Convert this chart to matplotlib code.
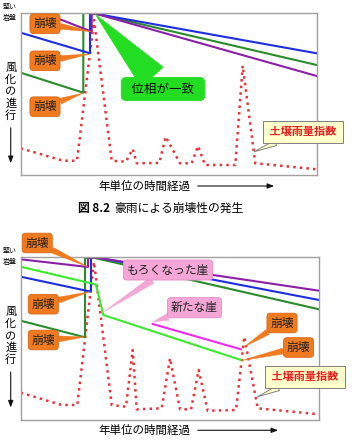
import matplotlib
matplotlib.use("Agg")
import matplotlib.pyplot as plt

plt.rcParams['font.family'] = ['Noto Sans CJK JP', 'DejaVu Sans']

# schematic values (x = time, y = weathering, pixel-like units)
# --- panel 1 ---
blue1_x = [20.7, 90, 90, 94, 316.7]
blue1_y = [32.7, 53.3, 13.5, 13.5, 53.3]
purple1_x = [43.3, 91.7, 91.7, 95, 316.7]
purple1_y = [12.7, 31.7, 13.5, 13.5, 76]
green1_x = [20.7, 83.3, 83.3, 93, 316.7]
green1_y = [72.7, 92.7, 13, 13, 65]
rain1_x = [20.7, 63, 77, 94, 111.7, 126, 132.7, 136.7, 159.3, 165.7, 180, 191.7,
           198, 205, 235.3, 242.7, 255.3, 316.7]
rain1_y = [148.3, 160.7, 160.7, 20, 160.7, 161.7, 149, 163.3, 163, 136.7, 163.3, 163.3,
           146, 165, 165, 65.7, 163.3, 169.3]

# --- panel 2 ---
purple2_x = [20.7, 88, 88, 95, 319]
purple2_y = [259.3, 267, 257.5, 257.5, 290.7]
blue2_x = [20.7, 91, 91, 95, 319]
blue2_y = [276.7, 291.7, 257, 257, 300]
dgreen2_x = [20.7, 85, 85, 95, 319]
dgreen2_y = [320.7, 337.3, 258, 258, 309.3]
lime2_x = [20.7, 96, 103.3, 241]
lime2_y = [266.7, 284.5, 315, 360]
magenta2_x = [152.7, 241]
magenta2_y = [324, 349.3]
rain2_x = [20.7, 61.7, 77.3, 94, 111.7, 126, 132.7, 136.7, 161.7, 170, 180, 191,
           198.7, 207.7, 236, 244.3, 257.7, 319]
rain2_y = [392.7, 405, 405, 262, 405, 406.7, 350, 409.3, 408.3, 358.3, 409.3, 409.3,
           370, 410.7, 410, 336.7, 408.3, 414.3]

W, H = 352, 444
fig = plt.figure(figsize=(W / 100, H / 100), dpi=100)

ORANGE = '#f07a1e'
BLUE = '#1d2ee0'
PURPLE = '#8b1fa8'
DGREEN = '#2a8c2a'
LIME = '#3bea2e'
MAGENTA = '#ee2aee'
RED = '#e8323c'


def panel(x0, x1, y0, y1):
    ax = fig.add_axes([x0 / W, 1 - y1 / H, (x1 - x0) / W, (y1 - y0) / H])
    ax.set_xlim(x0, x1)
    ax.set_ylim(y1, y0)
    ax.set_xticks([])
    ax.set_yticks([])
    for s in ax.spines.values():
        s.set_color('#a0a0a0')
        s.set_linewidth(1.0)
    return ax


def callout(ax, txt, xy, xyt, kind='orange'):
    if kind == 'orange':
        bb = dict(boxstyle='round,pad=0.28,rounding_size=0.3', fc=ORANGE, ec='#d8661a', lw=0.6)
        ap = dict(arrowstyle='wedge,tail_width=0.5,shrink_factor=0.5', fc=ORANGE, ec=ORANGE,
                  lw=0.3, shrinkA=0, shrinkB=0)
        ax.annotate(txt, xy=xy, xytext=xyt, ha='center', va='center', fontsize=8.5,
                    color='#222222', bbox=bb, arrowprops=ap, annotation_clip=False, zorder=10)
    elif kind == 'pink':
        bb = dict(boxstyle='round,pad=0.3,rounding_size=0.3', fc='#f4a6d6', ec='#e48cc4', lw=0.6)
        ap = dict(arrowstyle='wedge,tail_width=0.6,shrink_factor=0.5', fc='#f4a6d6',
                  ec='#f4a6d6', lw=0.3, shrinkA=0, shrinkB=0)
        ax.annotate(txt, xy=xy, xytext=xyt, ha='center', va='center', fontsize=8.5,
                    color='#222222', bbox=bb, arrowprops=ap, annotation_clip=False, zorder=10)
    elif kind == 'yellow':
        bb = dict(boxstyle='square,pad=0.4', fc='#ffffcc', ec='#808080', lw=0.7)
        ap = dict(arrowstyle='wedge,tail_width=0.5,shrink_factor=0.5', fc='#ffffcc',
                  ec='#707070', lw=0.6, shrinkA=0, shrinkB=0)
        ax.annotate(txt, xy=xy, xytext=xyt, ha='center', va='center', fontsize=8,
                    color='#e82020', fontweight='bold', bbox=bb, arrowprops=ap,
                    annotation_clip=False, zorder=10)
    else:
        bb = dict(boxstyle='round,pad=0.4,rounding_size=0.4', fc='#22dd22', ec='#22dd22', lw=0.6)
        ap = dict(arrowstyle='wedge,tail_width=2.4,shrink_factor=0.5', fc='#22dd22',
                  ec='#22dd22', lw=0.3, shrinkA=0, shrinkB=0)
        ax.annotate(txt, xy=xy, xytext=xyt, ha='center', va='center', fontsize=9,
                    color='#111111', bbox=bb, arrowprops=ap, annotation_clip=False, zorder=10)


def side_labels(ax, dy, arrow_end):
    ax.text(10, 7 + dy, '堅い', ha='center', va='center', fontsize=5, clip_on=False)
    ax.text(10, 17.5 + dy, '岩盤', ha='center', va='center', fontsize=5, clip_on=False)
    for i, ch in enumerate('風化の進行'):
        ax.text(10.7, 68 + dy + i * 11.8, ch, ha='center', va='center', fontsize=8,
                clip_on=False)
    ax.annotate('', xy=(10.7, 166 + dy), xytext=(10.7, 125 + dy), annotation_clip=False,
                arrowprops=dict(arrowstyle='-|>,head_width=0.15,head_length=0.4',
                                color='#111111', lw=0.8))
    ax.text(144, 186 + dy, '年単位の時間経過', ha='center', va='center', fontsize=8.3,
            clip_on=False)
    ax.annotate('', xy=(arrow_end, 186 + dy), xytext=(195, 186 + dy), annotation_clip=False,
                arrowprops=dict(arrowstyle='-|>,head_width=0.15,head_length=0.4',
                                color='#111111', lw=0.8))


# ---------------- panel 1 ----------------
ax1 = panel(20.7, 316.7, 12.7, 175)
ax1.plot(rain1_x, rain1_y, color=RED, ls=':', lw=1.8)
ax1.plot(green1_x, green1_y, color=DGREEN, lw=1.5)
ax1.plot(blue1_x, blue1_y, color=BLUE, lw=1.5)
ax1.plot(purple1_x, purple1_y, color=PURPLE, lw=1.5)

callout(ax1, '崩壊', (91.7, 31.7), (45, 23.7))
callout(ax1, '崩壊', (90, 54), (45, 60.8))
callout(ax1, '崩壊', (83.3, 93), (45, 106.7))
callout(ax1, '  位相が一致  ', (95, 14), (163, 89), kind='green')
callout(ax1, ' 土壌雨量指数 ', (254.3, 151.7), (303, 131.7), kind='yellow')
side_labels(ax1, 0, 277)

ax1.text(78, 208.5, '図 8.2', ha='left', va='center', fontsize=8.5, fontweight='bold',
         clip_on=False)
ax1.text(114, 208.5, '豪雨による崩壊性の発生', ha='left', va='center', fontsize=8.5,
         clip_on=False)

# ---------------- panel 2 ----------------
ax2 = panel(20.7, 319, 257, 420)
ax2.plot(rain2_x, rain2_y, color=RED, ls=':', lw=1.8)
ax2.plot(dgreen2_x, dgreen2_y, color=DGREEN, lw=1.5)
ax2.plot(blue2_x, blue2_y, color=BLUE, lw=1.5)
ax2.plot(purple2_x, purple2_y, color=PURPLE, lw=1.5)
ax2.plot(lime2_x, lime2_y, color=LIME, lw=1.5)
ax2.plot(magenta2_x, magenta2_y, color=MAGENTA, lw=1.5)

callout(ax2, '崩壊', (88, 267), (37.2, 243))
callout(ax2, '崩壊', (90, 291.7), (43.3, 304.2))
callout(ax2, '崩壊', (85, 337), (43.3, 340))
callout(ax2, 'もろくなった崖', (103.3, 312), (168, 270), kind='pink')
callout(ax2, '新たな崖', (153, 322), (194.5, 307.7), kind='pink')
callout(ax2, '崩壊', (244.3, 346.7), (282, 323))
callout(ax2, '崩壊', (241, 360.7), (298.5, 347.5))
callout(ax2, ' 土壌雨量指数 ', (257.7, 396.7), (305, 376.7), kind='yellow')
side_labels(ax2, 244.3, 281)

fig.savefig('out.png', dpi=100)
